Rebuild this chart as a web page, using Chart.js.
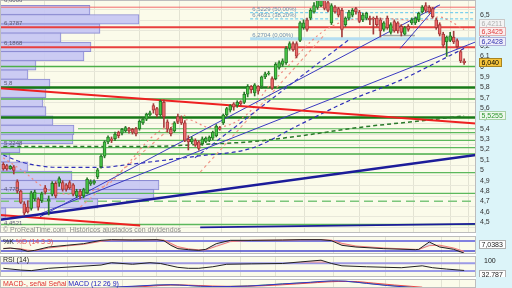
<!DOCTYPE html>
<html><head><meta charset="utf-8">
<script src="https://cdn.jsdelivr.net/npm/chart.js@4.4.0/dist/chart.umd.min.js"></script>
<style>
html,body{margin:0;padding:0;background:#ffffff;}
#wrap{position:relative;width:512px;height:288px;overflow:hidden;background:#ffffff;}
#strip{position:absolute;left:476px;top:0;width:36px;height:288px;background:#dcf4f9;}
canvas{position:absolute;left:0;}
</style></head><body>
<div id="wrap"><div id="strip"></div>
<canvas id="cMain" width="512" height="233" style="top:0px"></canvas>
<canvas id="cSto" width="512" height="18" style="top:236px"></canvas>
<canvas id="cRsi" width="512" height="21" style="top:256px"></canvas>
<canvas id="cMacd" width="512" height="9" style="top:279px"></canvas>
</div>
<script>
// ---------- DATA ----------
const opens = [5.058,5.044,5.012,5.034,4.890,4.798,4.676,4.644,4.630,4.724,
4.722,4.706,4.828,4.706,4.768,4.874,4.874,4.881,4.860,4.881,
4.860,4.752,4.798,4.752,4.782,4.869,4.874,4.936,5.034,5.136,
5.274,5.304,5.304,5.366,5.359,5.380,5.402,5.396,5.402,5.402,
5.458,5.494,5.534,5.626,5.596,5.534,5.656,5.467,5.396,5.380,
5.518,5.504,5.458,5.298,5.274,5.288,5.274,5.258,5.279,5.288,
5.310,5.334,5.412,5.458,5.534,5.580,5.642,5.626,5.663,5.656,
5.736,5.810,5.748,5.810,5.810,5.902,5.930,5.886,5.886,5.994,
6.022,6.040,6.178,6.224,6.224,6.254,6.378,6.454,6.470,6.530,
6.574,6.592,6.666,6.620,6.424,6.576,6.562,6.546,6.408,6.470,
6.500,6.562,6.530,6.454,6.470,6.470,6.470,6.470,6.454,6.362,
6.470,6.332,6.438,6.424,6.392,6.316,6.392,6.424,6.424,6.454,
6.530,6.592,6.574,6.562,6.454,6.408,6.316,6.240,6.254,6.286,
6.254,6.148,6.056];
const closes = [5.012,5.012,5.037,4.998,4.798,4.690,4.584,4.598,4.782,4.789,
4.644,4.773,4.789,4.722,4.874,4.752,4.920,4.814,4.814,4.828,
4.768,4.798,4.752,4.814,4.911,4.890,4.896,5.003,5.136,5.274,
5.320,5.288,5.350,5.334,5.396,5.412,5.380,5.366,5.350,5.472,
5.494,5.543,5.555,5.580,5.534,5.666,5.518,5.396,5.350,5.458,
5.472,5.458,5.288,5.274,5.304,5.242,5.212,5.304,5.310,5.320,
5.366,5.426,5.396,5.534,5.596,5.626,5.610,5.656,5.642,5.734,
5.810,5.780,5.826,5.764,5.902,5.932,5.939,5.794,6.024,6.040,
6.058,6.178,6.224,6.162,6.102,6.424,6.424,6.362,6.546,6.592,
6.666,6.684,6.564,6.546,6.592,6.530,6.500,6.362,6.470,6.530,
6.546,6.530,6.438,6.500,6.516,6.454,6.460,6.408,6.346,6.424,
6.378,6.408,6.346,6.346,6.332,6.378,6.362,6.454,6.470,6.516,
6.576,6.546,6.530,6.484,6.378,6.316,6.208,6.286,6.300,6.240,
6.194,6.056,6.040];
const highs = [5.074,5.056,5.046,5.046,4.908,4.807,4.697,4.706,4.798,4.807,
4.734,4.789,4.853,4.752,4.890,4.890,4.936,4.899,4.872,4.899,
4.872,4.816,4.816,4.826,4.927,4.908,4.908,5.019,5.148,5.286,
5.332,5.322,5.368,5.378,5.405,5.424,5.414,5.405,5.414,5.488,
5.506,5.552,5.571,5.644,5.608,5.681,5.681,5.488,5.414,5.470,
5.543,5.525,5.479,5.334,5.322,5.304,5.286,5.322,5.322,5.332,
5.378,5.442,5.424,5.543,5.608,5.635,5.654,5.672,5.672,5.755,
5.828,5.819,5.838,5.819,5.911,5.948,5.957,5.902,6.040,6.058,
6.077,6.196,6.242,6.242,6.242,6.436,6.454,6.472,6.564,6.620,
6.684,6.700,6.690,6.640,6.610,6.592,6.574,6.564,6.482,6.546,
6.564,6.574,6.546,6.518,6.528,6.491,6.482,6.491,6.472,6.436,
6.491,6.426,6.454,6.436,6.408,6.390,6.408,6.472,6.482,6.528,
6.592,6.620,6.592,6.574,6.472,6.426,6.334,6.298,6.334,6.344,
6.270,6.160,6.077];
const lows = [5.000,5.000,5.009,4.964,4.780,4.678,4.568,4.586,4.614,4.706,
4.614,4.688,4.770,4.568,4.752,4.734,4.844,4.798,4.798,4.816,
4.752,4.734,4.724,4.734,4.770,4.853,4.862,4.918,5.019,5.120,
5.258,5.267,5.286,5.313,5.341,5.368,5.359,5.350,5.332,5.387,
5.442,5.479,5.525,5.552,5.516,5.516,5.414,5.368,5.332,5.368,
5.451,5.442,5.276,5.196,5.258,5.230,5.194,5.240,5.267,5.276,
5.295,5.322,5.387,5.442,5.525,5.562,5.580,5.608,5.626,5.644,
5.709,5.746,5.718,5.736,5.792,5.884,5.920,5.782,5.874,5.976,
6.003,6.022,6.160,6.150,6.086,6.242,6.362,6.344,6.454,6.518,
6.555,6.580,6.550,6.530,6.408,6.518,6.482,6.288,6.390,6.454,
6.482,6.509,6.426,6.436,6.454,6.408,6.316,6.390,6.288,6.344,
6.362,6.316,6.334,6.325,6.298,6.307,6.344,6.408,6.408,6.436,
6.518,6.528,6.518,6.472,6.362,6.298,6.187,6.100,6.242,6.224,
6.178,6.040,6.022];

// volume profile (price bin centres, relative volume)
const volPrice = [6.548,6.459,6.370,6.281,6.192,6.103,6.014,5.925,5.836,5.747,5.658,5.569,5.480,5.391,5.302,5.213,5.124,5.035,4.946,4.857,4.768,4.679,4.590];
const volSize  = [90,139,100,61,91,84,36,28,50,46,43,46,53,74,73,20,10,28,72,159,154,98,6];

// horizontal levels and their starting bar index
const hLevels = [6.576,6.383,6.190,6.003,5.801,5.688,5.509,5.401,5.364,5.288,5.218,5.157,4.977,4.777,4.701,4.476];
const hFrom   = [-0.95,-0.95,-0.95,-0.95,-0.95,-0.95,-0.95,21.4,-0.95,-0.95,-0.95,-0.95,-0.95,-0.95,-0.95,-0.95];

// fibonacci retracement
const fibLevels = [6.5229,6.4631,6.2704];
const fibPct    = [50,38.2,0];
const fibStart  = 70.7;

// trendlines [barIndex, price]
const trendRed       = [[-0.95,5.792],[135.4,5.451]];
const trendRedLow    = [[-0.95,4.568],[39.2,4.467]];
const trendNavy      = [[-0.95,4.522],[135.4,5.148]];
const trendNavyLow   = [[56.4,4.448],[135.4,4.481]];
const trendBlueSteep = [[10.5,4.550],[125.1,6.599]];
const trendBlue      = [[9.1,4.559],[135.4,6.242]];
const trendBlueShort = [[113.7,6.178],[124.3,6.592]];
const trendBlueDash  = [[54.9,5.120],[99.3,6.270]];
const trendSalmon1   = [[22.0,4.642],[52.1,5.534]];
const trendSalmon2   = [[56.4,4.982],[92.2,6.316]];
const greyShort      = [[108.8,6.302],[117.9,6.302]];

// moving averages
const maBlueIdx = [0,4,8,16,28,36,45,56,71,85,99,114,125,132];
const maBlueVal = [5.148,5.092,5.056,5.028,5.028,5.056,5.092,5.138,5.212,5.442,5.672,5.874,6.058,6.178];
const maGreenIdx = [0,28,42,56,71,85,102,120,132];
const maGreenVal = [5.230,5.230,5.230,5.249,5.276,5.332,5.414,5.479,5.5255];
const maSalmonIdx = [0,6,12,19,25,31,36,42,48,53,59,65,71,76,82,88,94,102,111,119,125,128,132];
const maSalmonVal = [5.120,4.982,4.826,4.770,4.798,4.890,5.074,5.304,5.442,5.488,5.414,5.442,5.580,5.810,6.022,6.242,6.390,6.463,6.463,6.445,6.482,6.440,6.360];

// labels
const leftLevels = [6.6006,6.3787,6.1868,5.8,5.2248,4.775,4.4521];
const tagVals  = [6.4211,6.3425,6.2428,6.040,5.5255];
const tagTexts = ['6,4211','6,3425','6,2428','6,040','5,5255'];
const priceTicks = [4.5,4.6,4.7,4.8,4.9,5.0,5.1,5.2,5.3,5.4,5.5,5.6,5.7,5.8,5.9,6.0,6.1,6.2,6.3,6.4,6.5];
const gridIdx = [5.35,18.25,34.0,44.0,57.2,67.8,78.1,94.5,109.6,125.4,130.6];

// indicators
const stoIdx = [0,2,5,7,9,13,18,23,28,31,37,44,46,48,50,53,56,58,61,65,71,80,85,91,94,97,101,109,118,119,122,125,129,132];
const stoK = [34,38,30,18,24,44,54,64,84,88,86,88,82,54,34,28,24,30,64,84,84,86,88,88,82,54,44,34,28,30,74,44,30,7.0383];
const stoD = [36,36,33,25,22,38,50,60,78,86,86,87,85,66,46,33,27,27,48,76,84,85,87,88,85,66,50,38,30,29,52,55,38,18];
const stoLevels = [80,20];
const rsiIdx = [0,5,8,13,28,31,37,42,45,47,50,53,56,60,64,71,80,85,91,94,97,104,114,120,123,127,132];
const rsiVal = [44,35,32,44,61,73,65,73,69,61,49,44,44,52,65,67,69,77,86,69,57,52,47,57,47,40,32.787];
const rsiLevels = [70,30];
const macdIdx = [28,38,44,48,53,60,70,80,88,94,98,104,110,118];
const macdVal = [0.0,0.03,0.05,0.055,0.04,0.02,0.03,0.07,0.10,0.125,0.12,0.08,0.04,0.0];
const sigIdx = [30,40,46,50,56,64,74,84,90,96,100,106,112,120];
const sigVal = [0.0,0.02,0.045,0.052,0.04,0.025,0.035,0.07,0.095,0.115,0.115,0.085,0.05,0.01];

// ---------- STYLE ----------
const xMin = -0.95, xMax = 135.4;
const FONT = '"Liberation Sans", Arial, sans-serif';
Chart.defaults.font.family = FONT;
Chart.defaults.animation = false;
const hStyle = [
 ['#f26b6b',1,[]],['#e8403f',2,[]],['#e8403f',2,[]],['#4daf4a',1.5,[]],['#177a17',2.5,[]],['#4daf4a',1.5,[]],
 ['#177a17',2.5,[]],['#5cb85c',1.2,[]],['#5cb85c',1.2,[]],['#5cb85c',1.2,[]],['#5cb85c',1.2,[]],['#4daf4a',1.5,[]],
 ['#5cb85c',1.2,[]],['#5cb85c',1.2,[]],['#7cc67c',1.5,[9,5]],['#5cb85c',1.5,[]]];
const tagStyle = [
 ['#f4f4f4','#c8c8c8','#b0b0b0'],['#fbeeee','#e0b0b0','#e04040'],['#eeeefa','#b0b0d8','#3434b0'],
 ['#f6c43c','#a88420','#000000'],['#eef8ee','#a8d0a8','#2a962a']];

const fmtNum = v => String(v).replace('.', ',');
const pts = arr => arr.map(p => ({x:p[0], y:p[1]}));
const zip = (xs, ys) => xs.map((x,i) => ({x, y:ys[i]}));
function lineDs(data, color, width, dash, smooth, order){
  return {type:'line', xAxisID:'x', yAxisID:'y', data, borderColor:color, borderWidth:width,
    borderDash:dash||[], pointRadius:0, fill:false, tension:smooth?0.4:0,
    cubicInterpolationMode: smooth?'monotone':'default', order:order||10};
}
function xAxis(){
  return {type:'linear', min:xMin, max:xMax, offset:false,
    afterBuildTicks: ax => { ax.ticks = gridIdx.map(v => ({value:v})); },
    afterFit: ax => { ax.height = 0; ax.paddingLeft = 0; ax.paddingRight = 0; },
    grid:{color:'#e3e3d3', drawTicks:false, lineWidth:1}, border:{display:false}, ticks:{display:false}};
}
function framePlugin(extra){
  return {id:'frame',
    beforeDraw(c){ const a=c.chartArea,g=c.ctx; g.save(); g.fillStyle='#fbfbea'; g.fillRect(a.left,a.top,a.right-a.left,a.bottom-a.top); g.restore(); },
    afterDraw(c){ const a=c.chartArea,g=c.ctx; g.save(); g.strokeStyle='#bdbdbd'; g.lineWidth=1;
      g.strokeRect(a.left+0.5,a.top+0.5,a.right-a.left-1,a.bottom-a.top-1); g.restore(); if(extra) extra(c); }};
}
function drawTag(g, x, y, text, fill, stroke, color){
  g.font = '7px ' + FONT;
  const w = Math.ceil(g.measureText(text).width) + 5;
  const top = Math.round(y - 4.5);
  g.fillStyle = fill; g.fillRect(x, top, w, 9);
  g.strokeStyle = stroke; g.lineWidth = 1; g.strokeRect(x + 0.5, top + 0.5, w - 1, 8);
  g.fillStyle = color; g.textBaseline = 'middle'; g.textAlign = 'left'; g.fillText(text, x + 2.5, top + 4.8);
}

// ---------- MAIN CHART ----------
const up = closes.map((c,i) => c >= opens[i]);
const mainDs = [];
mainDs.push({type:'bar', xAxisID:'x', yAxisID:'y', data: opens.map((o,i) => ({x:i, y:[o, closes[i]]})),
  backgroundColor: up.map(u => u ? '#46c846' : '#ef6b6b'), borderColor: up.map(u => u ? '#2a7a2a' : '#a53b3b'),
  borderWidth:1, borderSkipped:false, barThickness:3, grouped:false, order:1});
mainDs.push({type:'bar', xAxisID:'x', yAxisID:'y', data: lows.map((l,i) => ({x:i, y:[l, highs[i]]})),
  backgroundColor: up.map(u => u ? '#2a7a2a' : '#a53b3b'), borderWidth:0, barThickness:1, grouped:false, order:2});
mainDs.push({type:'bar', indexAxis:'y', xAxisID:'xv', yAxisID:'y', data: volPrice.map((p,i) => ({x:volSize[i], y:p})),
  backgroundColor:'rgba(199,199,243,0.93)', borderColor:'#8c8cd2', borderWidth:1, borderSkipped:false,
  barThickness:9.6, grouped:false, order:90});
hLevels.forEach((v,i) => mainDs.push(lineDs(pts([[hFrom[i], v],[xMax, v]]), hStyle[i][0], hStyle[i][1], hStyle[i][2], false, 20)));
fibLevels.forEach((v,i) => mainDs.push(i === fibLevels.length-1
  ? lineDs(pts([[fibStart, v],[xMax, v]]), '#b4def2', 3, [], false, 21)
  : lineDs(pts([[fibStart, v],[xMax, v]]), '#5cc6ee', 1, [3,2], false, 19)));
mainDs.push(lineDs(pts(greyShort), '#a6a6a6', 1.5, [], false, 18));
mainDs.push(lineDs(zip(maGreenIdx, maGreenVal), '#2a7a2a', 1.5, [4,3], true, 15));
mainDs.push(lineDs(zip(maSalmonIdx, maSalmonVal), '#f08a80', 1.2, [2,3], true, 14));
mainDs.push(lineDs(zip(maBlueIdx, maBlueVal), '#2e2eb8', 1.2, [4,3], true, 13));
mainDs.push(lineDs(pts(trendSalmon1), '#f09a8a', 1.2, [3,3], false, 12));
mainDs.push(lineDs(pts(trendSalmon2), '#f09a8a', 1.2, [3,3], false, 12));
mainDs.push(lineDs(pts(trendBlueDash), '#3a3ac0', 1.2, [4,3], false, 11));
mainDs.push(lineDs(pts(trendBlueSteep), '#3a3ac0', 1, [], false, 11));
mainDs.push(lineDs(pts(trendBlue), '#3a3ac0', 1, [], false, 11));
mainDs.push(lineDs(pts(trendBlueShort), '#3a3ac0', 1, [], false, 11));
mainDs.push(lineDs(pts(trendNavyLow), '#1c1c9a', 1.8, [], false, 10));
mainDs.push(lineDs(pts(trendNavy), '#1c1c9a', 2.5, [], false, 10));
mainDs.push(lineDs(pts(trendRedLow), '#ee2020', 2, [], false, 10));
mainDs.push(lineDs(pts(trendRed), '#ee2020', 2, [], false, 10));

function mainExtra(c){
  const g = c.ctx, ys = c.scales.y, xs = c.scales.x, a = c.chartArea;
  g.save();
  g.beginPath(); g.rect(a.left, a.top, a.right-a.left, a.bottom-a.top); g.clip();
  g.textAlign = 'left'; g.textBaseline = 'middle';
  g.font = '6px ' + FONT; g.fillStyle = '#5a5a72';
  leftLevels.forEach(v => g.fillText(fmtNum(v), 4, ys.getPixelForValue(v) - 4));
  g.fillStyle = '#6f8fae';
  const fx = xs.getPixelForValue(fibStart) + 2;
  fibLevels.forEach((v,i) => g.fillText(fmtNum(v) + ' (' + fibPct[i].toFixed(2).replace('.', ',') + '%)', fx, ys.getPixelForValue(v) - 3.6));
  g.font = '7px ' + FONT; g.fillStyle = '#8c8c8c';
  g.fillText('\u00A9 ProRealTime.com  Hist\u00F3ricos ajustados con dividendos', 3, a.bottom - 3);
  g.restore();
  g.save();
  tagVals.forEach((v,i) => drawTag(g, 479, ys.getPixelForValue(v), tagTexts[i], tagStyle[i][0], tagStyle[i][1], tagStyle[i][2]));
  g.restore();
}

new Chart(document.getElementById('cMain'), {
  type:'line',
  data:{datasets: mainDs},
  options:{responsive:false, animation:false, events:[], layout:{padding:0},
    plugins:{legend:{display:false}, tooltip:{enabled:false}},
    scales:{
      x: xAxis(),
      xv:{type:'linear', axis:'x', min:0, max:476, display:false},
      y:{type:'linear', position:'right', min:4.447, max:6.592,
        afterBuildTicks: ax => { ax.ticks = priceTicks.map(v => ({value:v})); },
        afterFit: ax => { ax.width = 36; ax.paddingTop = 0; ax.paddingBottom = 0; },
        grid:{color:'#e8e8da', drawTicks:false}, border:{display:false},
        ticks:{autoSkip:false, padding:4, color:'#333333', font:{size:7, family:FONT},
          callback: v => Number(v.toFixed(1)).toString().replace('.', ',')}}
    }},
  plugins:[framePlugin(mainExtra)]
});

// ---------- INDICATOR PANELS ----------
function smallChart(id, yMin, yMax, datasets, extra){
  return new Chart(document.getElementById(id), {
    type:'line', data:{datasets},
    options:{responsive:false, animation:false, events:[], layout:{padding:0},
      plugins:{legend:{display:false}, tooltip:{enabled:false}},
      scales:{ x: xAxis(),
        y:{type:'linear', position:'right', min:yMin, max:yMax,
          afterFit: ax => { ax.width = 36; ax.paddingTop = 0; ax.paddingBottom = 0; },
          grid:{display:false}, border:{display:false}, ticks:{display:false}}}},
    plugins:[framePlugin(extra)]
  });
}
const levelDs = (v, color, w) => lineDs(pts([[xMin, v],[xMax, v]]), color, w, [], false, 30);

const stoKDs = lineDs(zip(stoIdx, stoK), '#222222', 1, [], false, 2);
const stoDDs = lineDs(zip(stoIdx, stoD), '#ee7a7a', 1, [], false, 3);
stoDDs.fill = {target:0, above:'rgba(240,140,140,0.45)', below:'rgba(150,150,230,0.30)'};
smallChart('cSto', 2, 110, [stoKDs, stoDDs, levelDs(stoLevels[0], '#8080e0', 2), levelDs(stoLevels[1], '#4848d0', 1.5)], c => {
  const g = c.ctx; g.save(); g.font = '7px ' + FONT; g.textBaseline = 'middle'; g.textAlign = 'left';
  g.fillStyle = '#222'; g.fillText('%K', 3, 6); const w = g.measureText('%K ').width;
  g.fillStyle = '#e05050'; g.fillText('%D (14 3 3)', 3 + w, 6);
  drawTag(g, 479, c.scales.y.getPixelForValue(58), '7,0383', '#ffffff', '#b0b0b0', '#222');
  g.restore();
});

const rsiDs = lineDs(zip(rsiIdx, rsiVal), '#222222', 1, [], false, 2);
rsiDs.fill = {value:70, above:'rgba(240,140,140,0.5)', below:'rgba(0,0,0,0)'};
smallChart('cRsi', -1.2, 107.9, [rsiDs, levelDs(rsiLevels[0], '#9a9ae8', 2), levelDs(rsiLevels[1], '#9a9ae8', 2)], c => {
  const g = c.ctx; g.save(); g.font = '7px ' + FONT; g.textBaseline = 'middle'; g.textAlign = 'left';
  g.fillStyle = '#222'; g.fillText('RSI (14)', 3, 4.5);
  g.fillText('100', 484, 5);
  drawTag(g, 479, c.scales.y.getPixelForValue(10), '32,787', '#ffffff', '#b0b0b0', '#222');
  g.restore();
});

smallChart('cMacd', -0.005, 0.16, [
  lineDs(zip(macdIdx, macdVal), '#3434c8', 1, [], true, 2),
  lineDs(zip(sigIdx, sigVal), '#e84a4a', 1, [], true, 3),
  lineDs(zip(macdIdx, macdVal.map((v,i) => (v + sigVal[i]) / 2)), '#50b050', 1, [], true, 4)
], c => {
  const g = c.ctx; g.save(); g.font = '7px ' + FONT; g.textBaseline = 'middle'; g.textAlign = 'left';
  let x = 3; const parts = [['MACD-, se\u00F1al ', '#e03030'], ['Se\u00F1al ', '#e03030'], ['MACD (12 26 9)', '#2222c0']];
  parts.forEach(p => { g.fillStyle = p[1]; g.fillText(p[0], x, 5.5); x += g.measureText(p[0]).width; });
  g.restore();
});
</script>
</body></html>
